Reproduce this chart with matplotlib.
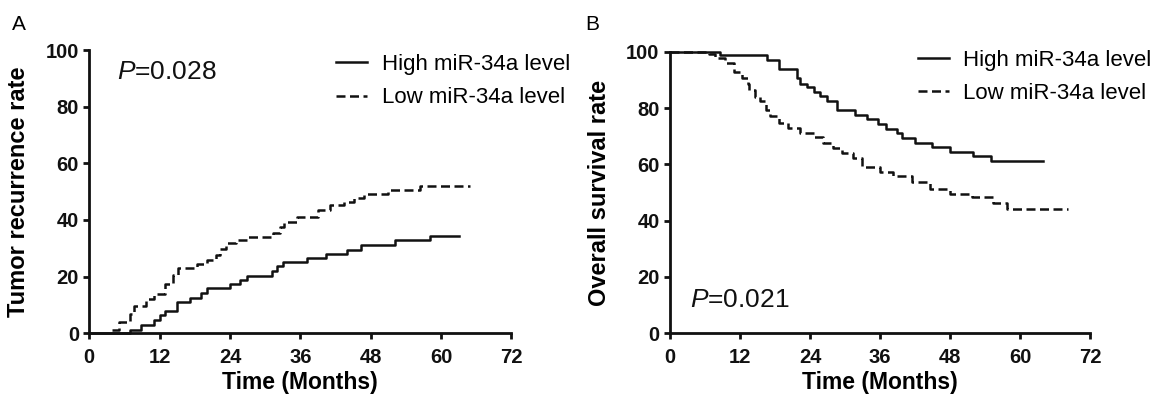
"""Kaplan-Meier style curves: recurrence and overall survival by miR-34a level."""

import matplotlib

matplotlib.use("Agg")
import matplotlib.pyplot as plt  # noqa: E402

plt.rcParams["font.family"] = ["Liberation Sans", "DejaVu Sans"]
plt.rcParams["mathtext.fontset"] = "custom"
plt.rcParams["mathtext.it"] = "Liberation Sans:italic"
plt.rcParams["mathtext.rm"] = "Liberation Sans"

# ---------- data ----------------------------------------------------------

x_ticks = [0, 12, 24, 36, 48, 60, 72]
y_ticks = [0, 20, 40, 60, 80, 100]
legend_labels = ["High miR-34a level", "Low miR-34a level"]

# panel A: tumour recurrence rate (%)
rec_high_t = [0, 6.9, 8.9, 11, 12, 13, 15, 17.1, 19, 20, 24, 25.7, 26.9,
              31.1, 32.1, 33.1, 37.1, 40.3, 44, 46.3, 52.1, 58.2, 63]
rec_high_v = [0, 1.2, 3.0, 4.8, 6.3, 7.9, 11.0, 12.6, 14.2, 15.9, 17.3, 18.7,
              20.1, 22.0, 23.6, 25.3, 26.6, 28.1, 29.5, 31.3, 32.9, 34.4, 34.4]
rec_low_t = [3.8, 5.1, 6.9, 7.7, 9.7, 11, 13, 14.2, 15.2, 18.3, 20, 21.7,
             22.3, 23.4, 25.1, 27.1, 31.4, 32.6, 33.3, 35.4, 39.1, 41.1, 43.4,
             45.1, 46.9, 51, 56.5, 65]
rec_low_v = [1.2, 4.0, 6.9, 9.5, 12.2, 14.0, 17.5, 20.5, 23.2, 24.6, 26.0,
             27.5, 29.9, 31.7, 32.8, 34.0, 35.4, 37.5, 39.4, 41.0, 43.4, 45.2,
             46.3, 47.8, 49.1, 50.7, 52.1, 52.1]
rec_p = "0.028"

# panel B: overall survival rate (%)
os_high_t = [0, 8.6, 16.6, 18.6, 21.7, 22.3, 23.4, 24.6, 25.7, 26.9, 28.6,
             31.7, 33.7, 35.7, 37.1, 38.9, 39.7, 42, 44.9, 48, 52, 55, 64]
os_high_v = [100, 98.8, 97.1, 93.7, 90.5, 88.7, 87.4, 85.8, 84.3, 82.6, 79.3,
             77.5, 76.0, 74.3, 72.6, 71.0, 69.2, 67.7, 66.0, 64.5, 62.8, 61.2,
             61.2]
os_low_t = [0, 6.6, 7.7, 9.4, 10.9, 12.3, 13.3, 13.6, 14.6, 15.4, 16.5, 17.1,
            18.6, 20.3, 22.3, 24.6, 26.3, 28, 29.4, 31.4, 32.9, 36, 38.3,
            41.4, 44.6, 48, 51.7, 55.4, 57.7, 68.3]
os_low_v = [100, 99.2, 97.6, 95.9, 92.9, 90.5, 88.7, 86.4, 84.0, 82.6, 79.3,
            77.2, 74.6, 72.8, 71.0, 69.6, 67.5, 65.7, 64.1, 62.1, 59.1, 57.3,
            55.8, 53.8, 51.3, 49.5, 48.3, 46.1, 44.0, 44.0]
os_p = "0.021"

# ---------- plotting ------------------------------------------------------

W, H = 1153, 398
fig = plt.figure(figsize=(W / 100, H / 100), dpi=100)
ax_a = fig.add_axes([89.3 / W, 1 - 333.3 / H, 422 / W, 283.3 / H])
ax_b = fig.add_axes([670 / W, 1 - 333.3 / H, 420 / W, 281.6 / H])

INK = "#111111"
DASH = (0, (3.6, 1.8))


def style_axis(ax, ylabel):
    ax.set_xlim(0, 72)
    ax.set_ylim(0, 100)
    ax.set_xticks(x_ticks)
    ax.set_yticks(y_ticks)
    for side in ("top", "right"):
        ax.spines[side].set_visible(False)
    for side in ("left", "bottom"):
        ax.spines[side].set_linewidth(2.0)
        ax.spines[side].set_color(INK)
    ax.tick_params(direction="out", length=4.5, width=2.0, color=INK,
                   labelsize=14.5, labelcolor=INK)
    ax.tick_params(axis="x", pad=6)
    ax.tick_params(axis="y", pad=3)
    for lab in ax.get_xticklabels() + ax.get_yticklabels():
        lab.set_fontweight("bold")
    ax.set_xlabel("Time (Months)", fontsize=16.5, fontweight="bold")
    ax.set_ylabel(ylabel, fontsize=17, fontweight="bold")
    ax.xaxis.set_label_coords(0.5, -0.175)
    ax.xaxis.label.set_va("center")
    ax.yaxis.set_label_coords(-0.168, 0.5)
    ax.yaxis.label.set_va("center")


def draw_curves(ax, th, vh, tl, vl):
    ax.step(th, vh, where="post", color=INK, lw=1.8, clip_on=False,
            label=legend_labels[0])
    ax.step(tl, vl, where="post", color=INK, lw=1.8, clip_on=False,
            linestyle=DASH, label=legend_labels[1])


draw_curves(ax_a, rec_high_t, rec_high_v, rec_low_t, rec_low_v)
draw_curves(ax_b, os_high_t, os_high_v, os_low_t, os_low_v)
style_axis(ax_a, "Tumor recurrence rate")
style_axis(ax_b, "Overall survival rate")

for ax, anchor in ((ax_a, (0.585, 0.985)), (ax_b, (0.59, 1.007))):
    ax.legend(loc="upper left", bbox_to_anchor=anchor, frameon=False,
              fontsize=16, handlelength=1.4, handletextpad=0.65,
              labelspacing=0.55, borderpad=0, borderaxespad=0)

ax_a.text(0.066, 0.922, rf"$\it{{P}}$={rec_p}", transform=ax_a.transAxes,
          fontsize=19, va="center", ha="left", color=INK)
ax_b.text(0.048, 0.12, rf"$\it{{P}}$={os_p}", transform=ax_b.transAxes,
          fontsize=19, va="center", ha="left", color=INK)

fig.text(12 / W, 1 - 30 / H, "A", fontsize=15, va="baseline", ha="left")
fig.text(585 / W, 1 - 30 / H, "B", fontsize=15, va="baseline", ha="left")

fig.savefig("out.png", dpi=100)
plt.close(fig)
